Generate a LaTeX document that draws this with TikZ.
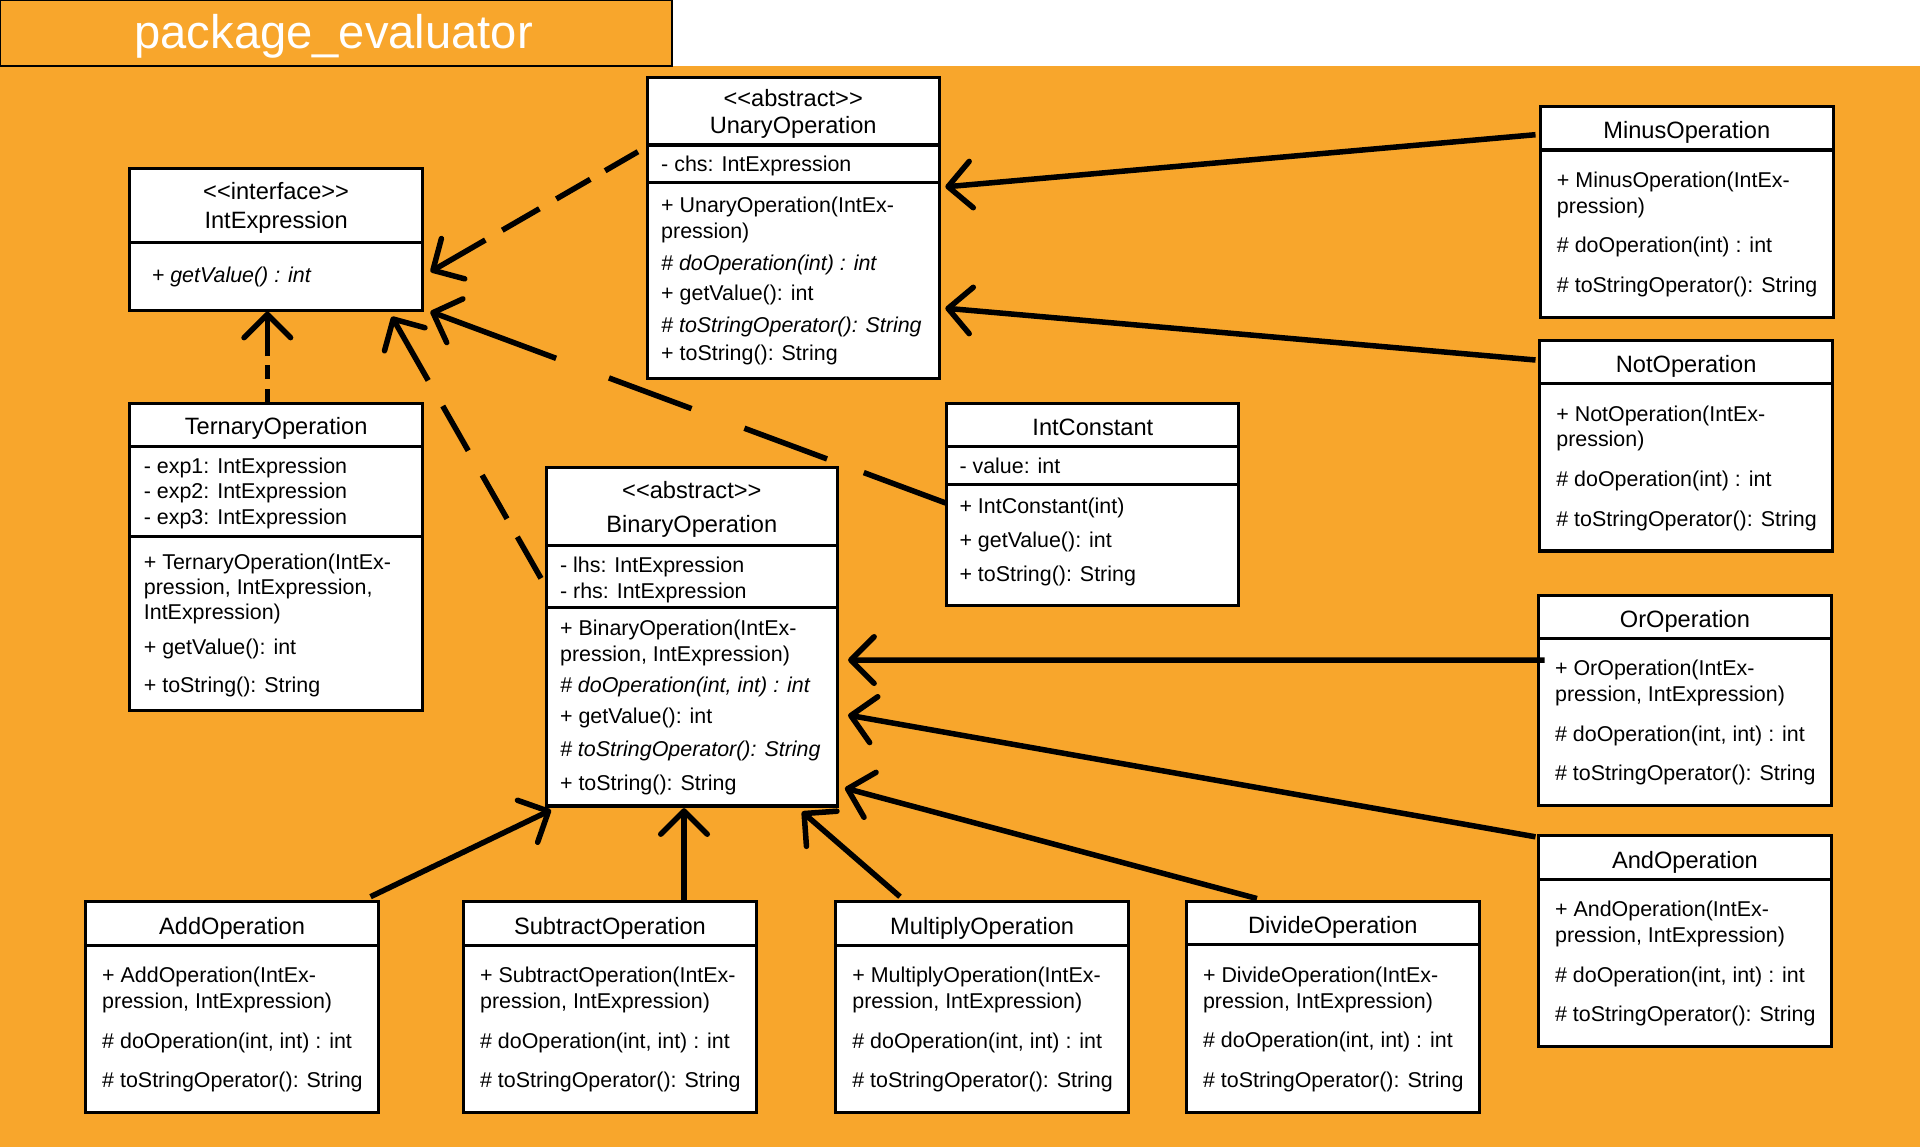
\documentclass[tikz,border=0pt]{standalone}
\usepackage{fontspec}
\setmainfont{Liberation Sans}
\usetikzlibrary{arrows.meta,calc}
\definecolor{bg}{RGB}{248,166,44}
\newcommand\fsz{\fontsize{17.5}{21}\selectfont}
\newcommand\tsz{\fontsize{19.3}{23}\selectfont}
\newcommand\LtLt{<\kern0pt<}
\newcommand\GtGt{>\kern0pt>}
\tikzset{
  cls/.style={draw, line width=2.5pt, fill=white, inner sep=0pt, outer sep=0pt, anchor=north west},
  div/.style={line width=2.5pt},
  txt/.style={anchor=base west, inner sep=0pt, outer sep=0pt, font=\fsz, yshift=-6pt},
  itxt/.style={txt, font=\fsz\itshape},
  ttl/.style={anchor=base, inner sep=0pt, outer sep=0pt, font=\tsz, yshift=-6.8pt},
  inh/.style={line width=4.5pt, -{Straight Barb[length=19pt,width=38pt,round]}},
}
\newcommand\OpBox[8]{%
  \node[cls, minimum width=239pt, minimum height=172pt] (#1) at (#2,#3) {};
  \draw[div] ($(#1.north west)+(0,35.5)$) -- ($(#1.north east)+(0,35.5)$);
  \node[ttl] (#1-title) at ($(#1.north)+(0,19.6)$) {#4};
  \node[txt] (#1-m1) at ($(#1.north west)+(13.5,60)$) {#5};
  \node[txt] (#1-m2) at ($(#1.north west)+(13.5,81)$) {#6};
  \node[txt] (#1-m3) at ($(#1.north west)+(13.5,113.5)$) {#7};
  \node[txt] (#1-m4) at ($(#1.north west)+(13.5,145.8)$) {#8};
}
\begin{document}
\begin{tikzpicture}[x=1pt, y=-1pt]
\useasboundingbox (0,0) rectangle (1568,937);
\fill[white] (0,0) rectangle (1568,937);
\fill[bg] (0,54) rectangle (1568,937);
\node[draw, line width=2pt, fill=bg, minimum width=549pt, minimum height=54pt, anchor=north west, inner sep=0pt, outer sep=0pt] (titlebox) at (0,0) {};
\node[text=white, inner sep=0pt, font=\fontsize{38.5}{42}\selectfont] (titletext) at (272.5,30) {package\_evaluator};

% IntExpression
\node[cls, minimum width=239pt, minimum height=115.7pt] (intexp) at (106,137.5) {};
\draw[div] ($(intexp.north west)+(0,60.5)$) -- ($(intexp.north east)+(0,60.5)$);
\node[ttl] (intexp-s) at ($(intexp.north)+(0,19)$) {\LtLt interface\GtGt};
\node[ttl] (intexp-t) at ($(intexp.north)+(0,42.2)$) {IntExpression};
\node[itxt] (intexp-m1) at ($(intexp.north west)+(18,87.1)$) {+ getValue() : int};

% UnaryOperation
\node[cls, minimum width=238.5pt, minimum height=245.7pt] (unary) at (528.5,63.2) {};
\draw[div] ($(unary.north west)+(0,55.2)$) -- ($(unary.north east)+(0,55.2)$);
\draw[div] ($(unary.north west)+(0,86)$) -- ($(unary.north east)+(0,86)$);
\node[ttl] (unary-s) at ($(unary.north)+(0,16.6)$) {\LtLt abstract\GtGt};
\node[ttl] (unary-t) at ($(unary.north)+(0,38.8)$) {UnaryOperation};
\node[txt] (unary-a1) at ($(unary.north west)+(11.5,70.7)$) {- chs: IntExpression};
\node[txt] (unary-m1) at ($(unary.north west)+(11.5,104.2)$) {+ UnaryOperation(IntEx-};
\node[txt] (unary-m2) at ($(unary.north west)+(11.5,125.4)$) {pression)};
\node[itxt] (unary-m3) at ($(unary.north west)+(11.5,151.8)$) {\# doOperation(int) : int};
\node[txt] (unary-m4) at ($(unary.north west)+(11.5,176.3)$) {+ getValue(): int};
\node[itxt] (unary-m5) at ($(unary.north west)+(11.5,202.2)$) {\# toStringOperator(): String};
\node[txt] (unary-m6) at ($(unary.north west)+(11.5,224.8)$) {+ toString(): String};

% TernaryOperation
\node[cls, minimum width=239pt, minimum height=251pt] (ternary) at (106,329.4) {};
\draw[div] ($(ternary.north west)+(0,35.4)$) -- ($(ternary.north east)+(0,35.4)$);
\draw[div] ($(ternary.north west)+(0,108.9)$) -- ($(ternary.north east)+(0,108.9)$);
\node[ttl] (ternary-t) at ($(ternary.north)+(0,19)$) {TernaryOperation};
\node[txt] (ternary-a1) at ($(ternary.north west)+(11.5,51.2)$) {- exp1: IntExpression};
\node[txt] (ternary-a2) at ($(ternary.north west)+(11.5,72.1)$) {- exp2: IntExpression};
\node[txt] (ternary-a3) at ($(ternary.north west)+(11.5,92.6)$) {- exp3: IntExpression};
\node[txt] (ternary-m1) at ($(ternary.north west)+(11.5,129.3)$) {+ TernaryOperation(IntEx-};
\node[txt] (ternary-m2) at ($(ternary.north west)+(11.5,150.3)$) {pression, IntExpression,};
\node[txt] (ternary-m3) at ($(ternary.north west)+(11.5,170.9)$) {IntExpression)};
\node[txt] (ternary-m4) at ($(ternary.north west)+(11.5,199.5)$) {+ getValue(): int};
\node[txt] (ternary-m5) at ($(ternary.north west)+(11.5,230)$) {+ toString(): String};

% BinaryOperation
\node[cls, minimum width=238pt, minimum height=276.3pt] (binary) at (446,381.9) {};
\draw[div] ($(binary.north west)+(0,63.5)$) -- ($(binary.north east)+(0,63.5)$);
\draw[div] ($(binary.north west)+(0,114.1)$) -- ($(binary.north east)+(0,114.1)$);
\node[ttl] (binary-s) at ($(binary.north)+(0,18.3)$) {\LtLt abstract\GtGt};
\node[ttl] (binary-t) at ($(binary.north)+(0,46.3)$) {BinaryOperation};
\node[txt] (binary-a1) at ($(binary.north west)+(11.4,79.5)$) {- lhs: IntExpression};
\node[txt] (binary-a2) at ($(binary.north west)+(11.4,100.8)$) {- rhs: IntExpression};
\node[txt] (binary-m1) at ($(binary.north west)+(11.4,131.2)$) {+ BinaryOperation(IntEx-};
\node[txt] (binary-m2) at ($(binary.north west)+(11.4,152.2)$) {pression, IntExpression)};
\node[itxt] (binary-m3) at ($(binary.north west)+(11.4,177.5)$) {\# doOperation(int, int) : int};
\node[txt] (binary-m4) at ($(binary.north west)+(11.4,202.8)$) {+ getValue(): int};
\node[itxt] (binary-m5) at ($(binary.north west)+(11.4,230)$) {\# toStringOperator(): String};
\node[txt] (binary-m6) at ($(binary.north west)+(11.4,257.3)$) {+ toString(): String};

% IntConstant
\node[cls, minimum width=238.6pt, minimum height=164.8pt] (intconst) at (773.2,329.6) {};
\draw[div] ($(intconst.north west)+(0,35.3)$) -- ($(intconst.north east)+(0,35.3)$);
\draw[div] ($(intconst.north west)+(0,65.9)$) -- ($(intconst.north east)+(0,65.9)$);
\node[ttl] (intconst-t) at ($(intconst.north)+(0,19.1)$) {IntConstant};
\node[txt] (intconst-a1) at ($(intconst.north west)+(10.4,51)$) {- value: int};
\node[txt] (intconst-m1) at ($(intconst.north west)+(10.4,83.9)$) {+ IntConstant(int)};
\node[txt] (intconst-m2) at ($(intconst.north west)+(10.4,111.7)$) {+ getValue(): int};
\node[txt] (intconst-m3) at ($(intconst.north west)+(10.4,139.4)$) {+ toString(): String};

% operation boxes
\OpBox{minus}{1258}{87}{MinusOperation}{+ MinusOperation(IntEx-}{pression)}{\# doOperation(int) : int}{\# toStringOperator(): String}
\OpBox{not}{1257.5}{278}{NotOperation}{+ NotOperation(IntEx-}{pression)}{\# doOperation(int) : int}{\# toStringOperator(): String}
\OpBox{or}{1256.5}{486}{OrOperation}{+ OrOperation(IntEx-}{pression, IntExpression)}{\# doOperation(int, int) : int}{\# toStringOperator(): String}
\OpBox{and}{1256.5}{682.5}{AndOperation}{+ AndOperation(IntEx-}{pression, IntExpression)}{\# doOperation(int, int) : int}{\# toStringOperator(): String}
\OpBox{add}{70}{736.4}{AddOperation}{+ AddOperation(IntEx-}{pression, IntExpression)}{\# doOperation(int, int) : int}{\# toStringOperator(): String}
\OpBox{subtract}{378.6}{736.4}{SubtractOperation}{+ SubtractOperation(IntEx-}{pression, IntExpression)}{\# doOperation(int, int) : int}{\# toStringOperator(): String}
\OpBox{multiply}{682.6}{736.4}{MultiplyOperation}{+ MultiplyOperation(IntEx-}{pression, IntExpression)}{\# doOperation(int, int) : int}{\# toStringOperator(): String}
\OpBox{divide}{969}{736.2}{DivideOperation}{+ DivideOperation(IntEx-}{pression, IntExpression)}{\# doOperation(int, int) : int}{\# toStringOperator(): String}

% realization (dashed)
\draw[inh, dash pattern=on 31pt off 14pt on 32pt off 16pt on 35pt off 16pt on 90pt off 0pt]
  ($(unary.north west)+(-7.5,60.7)$) -- ($(intexp.north east)+(6.6,84.4)$);
\draw[inh, dash pattern=on 72pt off 32pt on 72pt off 46pt on 72pt off 46pt on 130pt off 0pt]
  ($(intconst.north west)+(-0.3,81.4)$) -- ($(intexp.south east)+(6.5,1.3)$);
\draw[inh, dash pattern=on 39pt off 17pt on 41pt off 23pt on 42pt off 24pt on 80pt off 0pt]
  ($(binary.north west)+(-4.2,90.4)$) -- ($(intexp.south east)+(-25,5.4)$);
\draw[inh, dash pattern=on 12pt off 8pt on 11.5pt off 7pt on 60pt off 0pt]
  ($(ternary.north west)+(112.3,0)$) -- ($(intexp.south west)+(112.3,1.3)$);

% generalization (solid)
\draw[inh] ($(minus.north west)+(-4,23)$) -- ($(unary.north east)+(5,89.4)$);
\draw[inh] ($(not.north west)+(-3.5,16)$) -- ($(unary.north east)+(5,188.5)$);
\draw[inh] ($(or.north west)+(5,53.1)$) -- ($(binary.north east)+(8.6,157.1)$);
\draw[inh] ($(and.north west)+(-2.5,0.9)$) -- ($(binary.north east)+(8.6,202.1)$);
\draw[inh] ($(divide.north west)+(57.5,-2.4)$) -- ($(binary.north east)+(6,261.7)$);
\draw[inh] ($(multiply.north west)+(52.4,-4.1)$) -- ($(binary.south east)+(-29,4.7)$);
\draw[inh] ($(subtract.north west)+(180,0)$) -- ($(binary.south west)+(112.6,1.8)$);
\draw[inh] ($(add.north west)+(232.6,-4.1)$) -- ($(binary.south west)+(4,3.3)$);
\end{tikzpicture}
\end{document}
